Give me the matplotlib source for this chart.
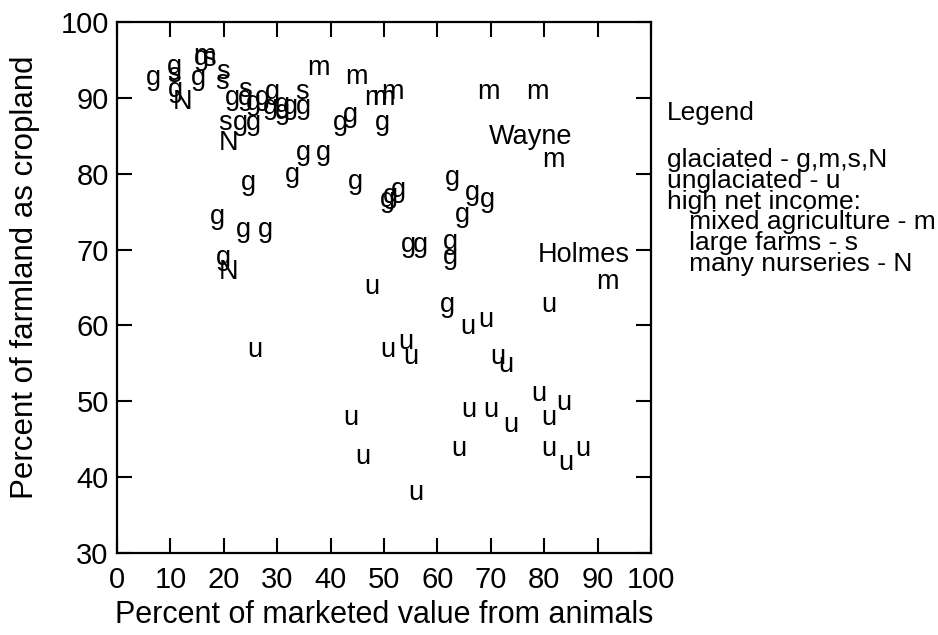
import matplotlib
matplotlib.use("Agg")
import matplotlib.pyplot as plt

plt.rcParams['font.family'] = ['Liberation Sans', 'DejaVu Sans']

# ---- data (percent of marketed value from animals, percent of farmland as cropland)
g_x = [6.8, 10.7, 10.9, 15.2, 15.9, 21.6, 24.0, 25.5, 27.2, 29.1, 28.7, 31.0, 31.0, 32.5, 34.9,
       23.1, 25.5, 41.8, 43.7, 49.7, 34.9, 38.6, 24.6, 32.8, 44.7, 51.2, 52.7, 50.6,
       62.9, 66.6, 69.4, 64.7, 18.8, 23.6, 27.8, 19.9, 54.6, 56.8, 62.5, 62.5, 61.9]
g_y = [92.6, 94.1, 91.0, 92.6, 95.3, 90.0, 90.0, 89.3, 90.0, 90.8, 88.8, 89.1, 88.1, 88.8, 88.8,
       86.7, 86.7, 86.7, 87.7, 86.7, 82.7, 82.7, 78.8, 79.8, 78.9, 77.0, 77.9, 76.5,
       79.4, 77.5, 76.5, 74.6, 74.3, 72.6, 72.6, 68.9, 70.6, 70.6, 71.0, 69.0, 62.7]

m_x = [16.4, 37.7, 44.8, 48.4, 49.9, 51.6, 69.6, 78.8, 81.8, 91.9]
m_y = [95.5, 93.9, 92.8, 90.0, 90.0, 90.8, 90.8, 90.8, 81.8, 65.7]

s_x = [10.7, 17.2, 19.9, 19.7, 24.0, 34.7, 20.3]
s_y = [93.0, 95.1, 93.4, 92.1, 91.0, 90.8, 86.7]

n_x = [12.2, 20.8, 20.8]
n_y = [89.5, 84.1, 67.1]

u_x = [47.8, 25.9, 50.8, 54.0, 55.0, 65.7, 69.0, 80.9, 71.3, 72.8, 79.0, 83.7, 80.9, 43.7,
       65.9, 70.0, 73.7, 46.0, 64.0, 80.9, 84.1, 87.2, 55.9]
u_y = [65.0, 56.8, 56.8, 57.8, 55.9, 59.8, 60.7, 62.7, 55.9, 54.8, 50.9, 49.8, 47.8, 47.8,
       48.9, 48.9, 46.9, 42.7, 43.7, 43.7, 41.9, 43.7, 37.9]

county_names = ["Wayne", "Holmes"]
county_x = [77.5, 87.4]
county_y = [84.8, 69.3]

x_ticks = [0, 10, 20, 30, 40, 50, 60, 70, 80, 90, 100]
y_ticks = [30, 40, 50, 60, 70, 80, 90, 100]

legend_title = "Legend"
legend_lines = ["glaciated - g,m,s,N", "unglaciated - u", "high net income:",
                "   mixed agriculture - m", "   large farms - s", "   many nurseries - N"]

W, H = 938, 635
fig = plt.figure(figsize=(W / 100, H / 100), dpi=100)
ax = fig.add_axes([117 / W, 1 - 553 / H, (651 - 117) / W, (553 - 22) / H])
ax.set_xlim(0, 100)
ax.set_ylim(30, 100)

FS = 19.5
for xs, ys, ch in [(g_x, g_y, 'g'), (m_x, m_y, 'm'), (s_x, s_y, 's'), (n_x, n_y, 'N'), (u_x, u_y, 'u')]:
    for x, y in zip(xs, ys):
        ax.text(x, y, ch, ha='center', va='center', fontsize=FS, color='black', clip_on=False)

for name, x, y in zip(county_names, county_x, county_y):
    ax.text(x, y, name, ha='center', va='center', fontsize=FS, color='black')

ax.set_xticks(x_ticks)
ax.set_yticks(y_ticks)
ax.set_xticklabels([str(t) for t in x_ticks], fontsize=21)
ax.set_yticklabels([str(t) for t in y_ticks], fontsize=21)
ax.tick_params(direction='in', length=11, width=1.5, top=True, right=True)
ax.tick_params(axis='x', pad=9)
ax.tick_params(axis='y', pad=6)
for sp in ax.spines.values():
    sp.set_linewidth(1.6)

ax.set_xlabel("Percent of marketed value from animals", fontsize=22)
ax.set_ylabel("Percent of farmland as cropland", fontsize=22.5)
ax.yaxis.set_label_coords(-0.145, 0.52)
ax.xaxis.set_label_coords(0.5, -0.088)

# legend text block to the right of the axes
fig.text(667 / W, 1 - 113 / H, legend_title, ha='left', va='center', fontsize=19)
for i, line in enumerate(legend_lines):
    yy = 160 + i * 20.8
    fig.text(667 / W, 1 - yy / H, line, ha='left', va='center', fontsize=19)

fig.savefig("out.png", dpi=100)
